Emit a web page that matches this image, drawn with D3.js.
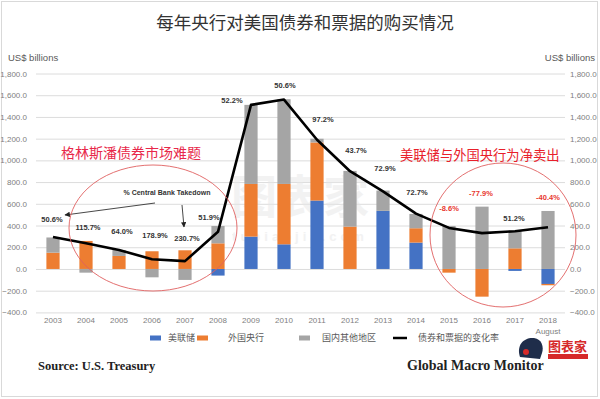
<!DOCTYPE html>
<html>
<head>
<meta charset="utf-8">
<script src="https://cdn.jsdelivr.net/npm/d3@7"></script>
<style>
  body { margin: 0; background: #fff; }
  svg { display: block; font-family: "Liberation Sans", Arial, sans-serif; }
</style>
</head>
<body>
<svg></svg>
<script>
// ---- data (US$ billions) ----
const years = ['2003','2004','2005','2006','2007','2008','2009','2010','2011','2012','2013','2014','2015','2016','2017','2018'];
const fed      = [0, 0, 0, 0, 0, -61, 298, 227, 630, 0, 535, 243, 0, 0, -18, -138];
const foreign  = [150, 258, 120, 163, 172, 236, 485, 556, 535, 390, 0, 132, -34, -255, 190, -12];
const domestic = [140, -34, 55, -77, -101, 160, 728, 780, 34, 513, 187, 132, 396, 574, 163, 534];
const changeLine = [295, 237, 175, 90, 72, 342, 1511, 1560, 1190, 900, 715, 510, 378, 330, 348, 384];
const takedown = ['50.6%','115.7%','64.0%','178.9%','230.7%','51.9%','52.2%','50.6%','97.2%','43.7%','72.9%','72.7%','-8.6%','-77.9%','51.2%','-40.4%'];
const yTicks = [-400, -200, 0, 200, 400, 600, 800, 1000, 1200, 1400, 1600, 1800];
const seriesNames = ['美联储', '外国央行', '国内其他地区'];
const lineName = '债券和票据的变化率';

// label nudges [dx, dy] from default spot above the bar (layout only)
const nudge = [[-1,-2],[2,2],[3,-3],[3,0],[2,4],[-9,7],[-19,11],[1,2],[6,-3],[6,-5],[2,-6],[1,-6],[0,-2],[-1,3],[-1,4],[0,2]];

const size = {w: 600, h: 399};
const colors = ['#4472c4', '#ed7d31', '#a5a5a5'];
const svg = d3.select('svg').attr('width', size.w).attr('height', size.h);

// outer frame
svg.append('rect').attr('x', 1.5).attr('y', 1.5).attr('width', 596).attr('height', 395)
  .attr('fill', '#fff').attr('stroke', '#d9d9d9');

// title
svg.append('text').attr('x', 305).attr('y', 29).attr('text-anchor', 'middle')
  .style('font-family', '"Noto Sans CJK SC"').style('font-size', '17.5px').attr('fill', '#333')
  .text('每年央行对美国债券和票据的购买情况');

// scales
const x = d3.scaleBand().domain(years).range([36.5, 564.5]).paddingInner(0.6).paddingOuter(0.3);
const y = d3.scaleLinear().domain([-400, 1800]).range([312.4, 73.5]);
const cx = d => x(d) + x.bandwidth() / 2;

// gridlines
svg.append('g').selectAll('line').data(yTicks).join('line')
  .attr('x1', 36).attr('x2', 565)
  .attr('y1', d => y(d) + 0.5).attr('y2', d => y(d) + 0.5)
  .attr('stroke', '#dcdcdc');

// axes
const fmt = d3.format(',.1f');
const leftAxis = svg.append('g').attr('transform', 'translate(30,0)')
  .call(d3.axisLeft(y).tickValues(yTicks).tickFormat(fmt).tickSize(0).tickPadding(3));
const rightAxis = svg.append('g').attr('transform', 'translate(566,0)')
  .call(d3.axisRight(y).tickValues(yTicks).tickFormat(fmt).tickSize(0).tickPadding(4));
const xAxis = svg.append('g').attr('transform', 'translate(0,317)')
  .call(d3.axisBottom(x).tickSize(0).tickPadding(0));
[leftAxis, rightAxis, xAxis].forEach(a => {
  a.select('.domain').remove();
  a.selectAll('text').attr('fill', '#808080').style('font-size', '8px')
    .style('font-family', '"Liberation Sans", Arial, sans-serif');
});
xAxis.append('text').attr('x', cx('2018')).attr('y', 17).attr('text-anchor', 'middle')
  .attr('fill', '#808080').style('font-size', '8px').text('August');

svg.append('text').attr('x', 8).attr('y', 61).attr('fill', '#595959').style('font-size', '9.5px').text('US$ billions');
svg.append('text').attr('x', 595).attr('y', 61).attr('text-anchor', 'end').attr('fill', '#595959').style('font-size', '9.5px').text('US$ billions');

// faint watermark
svg.append('text').attr('x', 300).attr('y', 213).attr('text-anchor', 'middle')
  .style('font-family', '"Noto Sans CJK SC"').style('font-size', '46px').style('font-weight', 'bold')
  .attr('fill', '#e6e6e6').attr('opacity', 0.5).text('图表家');
svg.append('text').attr('x', 300).attr('y', 241).attr('text-anchor', 'middle')
  .style('font-size', '13px').style('font-weight', 'bold').attr('letter-spacing', 4)
  .attr('fill', '#e6e6e6').attr('opacity', 0.5).text('tubiaojia.com');

// stacked bars
const rows = years.map((yr, i) => ({year: yr, fed: fed[i], foreign: foreign[i], domestic: domestic[i]}));
const stack = d3.stack().keys(['fed', 'foreign', 'domestic']).offset(d3.stackOffsetDiverging);
const stacked = stack(rows);

svg.append('g').selectAll('g').data(stacked).join('g')
  .attr('fill', (d, i) => colors[i])
  .selectAll('rect').data(d => d).join('rect')
  .attr('x', d => x(d.data.year))
  .attr('width', x.bandwidth())
  .attr('y', d => y(Math.max(d[0], d[1])))
  .attr('height', d => Math.abs(y(d[0]) - y(d[1])));

// line of net change
const line = d3.line().x((d, i) => cx(years[i])).y(d => y(d));
svg.append('path').datum(changeLine).attr('d', line)
  .attr('fill', 'none').attr('stroke', '#000').attr('stroke-width', 2.6).attr('stroke-linejoin', 'round');

// percent labels
const posTop = rows.map(r => d3.sum([r.fed, r.foreign, r.domestic].filter(v => v > 0)));
svg.append('g').selectAll('text').data(takedown).join('text')
  .attr('x', (d, i) => cx(years[i]) + nudge[i][0])
  .attr('y', (d, i) => y(posTop[i]) - 16 + nudge[i][1])
  .attr('dy', '0.35em').attr('text-anchor', 'middle')
  .style('font-size', '7.5px').style('font-weight', 'bold')
  .attr('fill', d => d.startsWith('-') ? '#e8382f' : '#333')
  .text(d => d);

// annotation: % Central Bank Takedown
svg.append('defs').append('marker').attr('id', 'arr')
  .attr('viewBox', '0 0 10 10').attr('refX', 9).attr('refY', 5)
  .attr('markerWidth', 6).attr('markerHeight', 6).attr('orient', 'auto')
  .append('path').attr('d', 'M0,0L10,5L0,10z').attr('fill', '#222');
svg.append('text').attr('x', 167).attr('y', 195).attr('text-anchor', 'middle')
  .style('font-size', '7px').style('font-weight', 'bold').attr('fill', '#333')
  .text('%  Central Bank Takedown');
svg.append('line').attr('x1', 155).attr('y1', 203).attr('x2', 65).attr('y2', 215)
  .attr('stroke', '#333').attr('stroke-width', 0.9).attr('marker-end', 'url(#arr)');
svg.append('line').attr('x1', 182).attr('y1', 205).attr('x2', 184).attr('y2', 227)
  .attr('stroke', '#333').attr('stroke-width', 0.9).attr('marker-end', 'url(#arr)');

// red ellipses and notes
svg.append('ellipse').attr('cx', 153).attr('cy', 228).attr('rx', 84).attr('ry', 63)
  .attr('fill', 'none').attr('stroke', '#e06060').attr('stroke-width', 0.9);
svg.append('ellipse').attr('cx', 503).attr('cy', 235).attr('rx', 73).attr('ry', 72)
  .attr('fill', 'none').attr('stroke', '#e06060').attr('stroke-width', 0.9);
svg.append('text').attr('x', 61).attr('y', 158)
  .style('font-family', '"Noto Sans CJK SC"').style('font-size', '14px').attr('fill', '#e8284a')
  .text('格林斯潘债券市场难题');
svg.append('text').attr('x', 400).attr('y', 160)
  .style('font-family', '"Noto Sans CJK SC"').style('font-size', '13.3px').attr('fill', '#e8202a')
  .text('美联储与外国央行为净卖出');

// legend
const legendG = svg.append('g').attr('transform', 'translate(0,338)');
const legendX = [[150, 168], [197, 228], [299, 322]];
seriesNames.forEach((name, i) => {
  legendG.append('rect').attr('x', legendX[i][0]).attr('y', -2.5).attr('width', 11).attr('height', 5).attr('fill', colors[i]);
  legendG.append('text').attr('x', legendX[i][1]).attr('y', 0).attr('dy', '0.35em')
    .style('font-family', '"Noto Sans CJK SC"').style('font-size', '9px').attr('fill', '#595959').text(name);
});
legendG.append('line').attr('x1', 393).attr('x2', 407).attr('y1', 0).attr('y2', 0).attr('stroke', '#000').attr('stroke-width', 2.5);
legendG.append('text').attr('x', 418).attr('y', 0).attr('dy', '0.35em')
  .style('font-family', '"Noto Sans CJK SC"').style('font-size', '9px').attr('fill', '#595959').text(lineName);

// source and brand
svg.append('text').attr('x', 38).attr('y', 370)
  .style('font-family', '"Liberation Serif", "Times New Roman", serif').style('font-size', '12.5px').style('font-weight', 'bold')
  .attr('fill', '#222').text('Source:  U.S. Treasury');
svg.append('text').attr('x', 407).attr('y', 370)
  .style('font-family', '"Liberation Serif", "Times New Roman", serif').style('font-size', '14px').style('font-weight', 'bold')
  .attr('fill', '#222').text('Global Macro Monitor');

// logo (rough)
const logo = svg.append('g').attr('transform', 'translate(530,349)');
logo.append('path').attr('d', 'M-10,8 C-14,-4 -6,-12 4,-11 C12,-10 14,-2 12,4 L10,10 Z').attr('fill', '#1f2d4a');
logo.append('circle').attr('cx', -4).attr('cy', 3).attr('r', 3).attr('fill', '#d62a2a');
logo.append('text').attr('x', 18).attr('y', 2)
  .style('font-family', '"Noto Sans CJK SC"').style('font-size', '13px').style('font-weight', 'bold')
  .attr('fill', '#d62a2a').text('图表家');
logo.append('rect').attr('x', 18).attr('y', 5).attr('width', 40).attr('height', 5).attr('fill', '#d62a2a');
</script>
</body>
</html>
